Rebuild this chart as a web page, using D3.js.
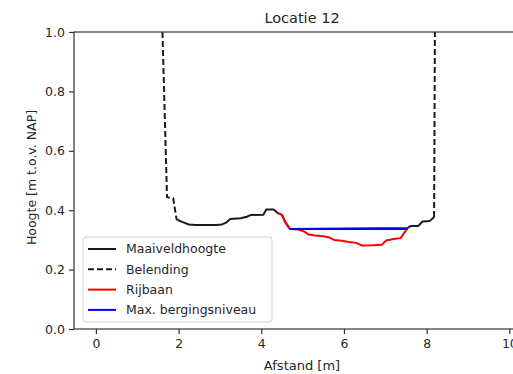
<!DOCTYPE html>
<html>
<head>
<meta charset="utf-8">
<script src="https://cdn.jsdelivr.net/npm/d3@7"></script>
<style>
  body { margin: 0; background: #fff; }
  svg text { font-family: "DejaVu Sans", sans-serif; fill: #262626; }
</style>
</head>
<body>
<div id="chart"></div>
<script>
// profile data
const maaiveldX = [1.98, 2.1, 2.25, 2.4, 2.9, 3.05, 3.15, 3.25, 3.5, 3.65, 3.75, 4.05, 4.12, 4.3, 4.4,
                   4.5, 4.58, 4.69, 7.54, 7.62, 7.8, 7.9, 8.08, 8.18];
const maaiveldY = [0.367, 0.36, 0.352, 0.35, 0.35, 0.352, 0.358, 0.37, 0.373, 0.378, 0.384, 0.385, 0.402, 0.402, 0.39,
                   0.384, 0.36, 0.337, 0.34, 0.347, 0.347, 0.362, 0.364, 0.377];

const belendingLinksX = [1.61, 1.72, 1.87, 1.95, 1.98];
const belendingLinksY = [1.0, 0.444, 0.44, 0.37, 0.367];
const belendingRechtsX = [8.18, 8.2];
const belendingRechtsY = [0.377, 1.0];

const rijbaanX = [4.4, 4.5, 4.58, 4.69, 4.9, 5.04, 5.15, 5.3, 5.5, 5.65, 5.76, 5.95, 6.12, 6.3, 6.43, 6.7,
                  6.92, 7.02, 7.2, 7.37, 7.45, 7.54];
const rijbaanY = [0.39, 0.384, 0.36, 0.337, 0.335, 0.328, 0.318, 0.315, 0.312, 0.308, 0.3, 0.297, 0.293, 0.29, 0.281, 0.282,
                  0.284, 0.298, 0.303, 0.306, 0.322, 0.34];

const bergingX = [4.69, 7.54];
const bergingY = [0.337, 0.337];

const xTicks = [0, 2, 4, 6, 8, 10];
const yTicks = [0.0, 0.2, 0.4, 0.6, 0.8, 1.0];

const legendItems = [
  { label: 'Maaiveldhoogte', color: '#1a1a1a', dash: null },
  { label: 'Belending', color: '#1a1a1a', dash: '6,3' },
  { label: 'Rijbaan', color: 'red', dash: null },
  { label: 'Max. bergingsniveau', color: 'blue', dash: null }
];

const width = 513, height = 374;
const margin = { left: 74, right: -17, top: 32, bottom: 45 };

const svg = d3.select('#chart').append('svg')
  .attr('width', width)
  .attr('height', height);

const x = d3.scaleLinear()
  .domain([-0.53, 10.5])
  .range([margin.left, width - margin.right]);

const y = d3.scaleLinear()
  .domain([0, 1])
  .range([height - margin.bottom, margin.top]);

const zip = (xs, ys) => xs.map((v, i) => [v, ys[i]]);

const line = d3.line()
  .x(d => x(d[0]))
  .y(d => y(d[1]));

const plot = svg.append('g');

const drawLine = (pts, color, dash) => {
  const p = plot.append('path')
    .attr('d', line(pts))
    .attr('fill', 'none')
    .attr('stroke', color)
    .attr('stroke-width', 2)
    .attr('stroke-linejoin', 'round');
  if (dash) p.attr('stroke-dasharray', dash);
  return p;
}

drawLine(zip(maaiveldX, maaiveldY), '#1a1a1a');
drawLine(zip(belendingLinksX, belendingLinksY), '#1a1a1a', '6,3');
drawLine(zip(belendingRechtsX, belendingRechtsY), '#1a1a1a', '6,3');
drawLine(zip(rijbaanX, rijbaanY), 'red');
drawLine(zip(bergingX, bergingY), 'blue');

// frame
svg.append('rect')
  .attr('x', margin.left)
  .attr('y', margin.top)
  .attr('width', x.range()[1] - margin.left)
  .attr('height', y(0) - margin.top)
  .attr('fill', 'none')
  .attr('stroke', '#333')
  .attr('stroke-width', 1.2);

// axes
const xAxis = svg.append('g')
  .attr('transform', `translate(0,${y(0)})`)
  .call(d3.axisBottom(x).tickValues(xTicks).tickFormat(d3.format('d')).tickSize(5).tickPadding(5));

const yAxis = svg.append('g')
  .attr('transform', `translate(${margin.left},0)`)
  .call(d3.axisLeft(y).tickValues(yTicks).tickFormat(d3.format('.1f')).tickSize(5).tickPadding(4));

[xAxis, yAxis].forEach(a => {
  a.select('.domain').remove();
  a.selectAll('line').attr('stroke', '#333').attr('stroke-width', 1.2);
  a.selectAll('text').attr('font-size', 12.5).attr('fill', '#262626')
    .style('font-family', '"DejaVu Sans", sans-serif');
});

const plotCenter = (margin.left + x.range()[1]) / 2;

// labels
svg.append('text')
  .attr('x', plotCenter)
  .attr('y', 23)
  .attr('text-anchor', 'middle')
  .attr('font-size', 14.5)
  .text('Locatie 12');

svg.append('text')
  .attr('x', plotCenter)
  .attr('y', 370)
  .attr('text-anchor', 'middle')
  .attr('font-size', 13)
  .text('Afstand [m]');

svg.append('text')
  .attr('transform', `translate(36,${y(0.51)}) rotate(-90)`)
  .attr('text-anchor', 'middle')
  .attr('font-size', 12.5)
  .text('Hoogte [m t.o.v. NAP]');

// legend
const legend = svg.append('g').attr('transform', 'translate(83,237)');

legend.append('rect')
  .attr('width', 189)
  .attr('height', 85)
  .attr('rx', 3)
  .attr('fill', 'white')
  .attr('fill-opacity', 0.8)
  .attr('stroke', '#d0d0d0');

const rows = legend.selectAll('.row')
  .data(legendItems)
  .enter()
  .append('g')
  .attr('class', 'row')
  .attr('transform', (d, i) => `translate(0,${12 + i * 20.3})`);

rows.append('line')
  .attr('x1', 5).attr('x2', 33)
  .attr('stroke', d => d.color)
  .attr('stroke-width', 2)
  .attr('stroke-dasharray', d => d.dash);

rows.append('text')
  .attr('x', 43)
  .attr('dy', '0.35em')
  .attr('font-size', 12.5)
  .text(d => d.label);
</script>
</body>
</html>
